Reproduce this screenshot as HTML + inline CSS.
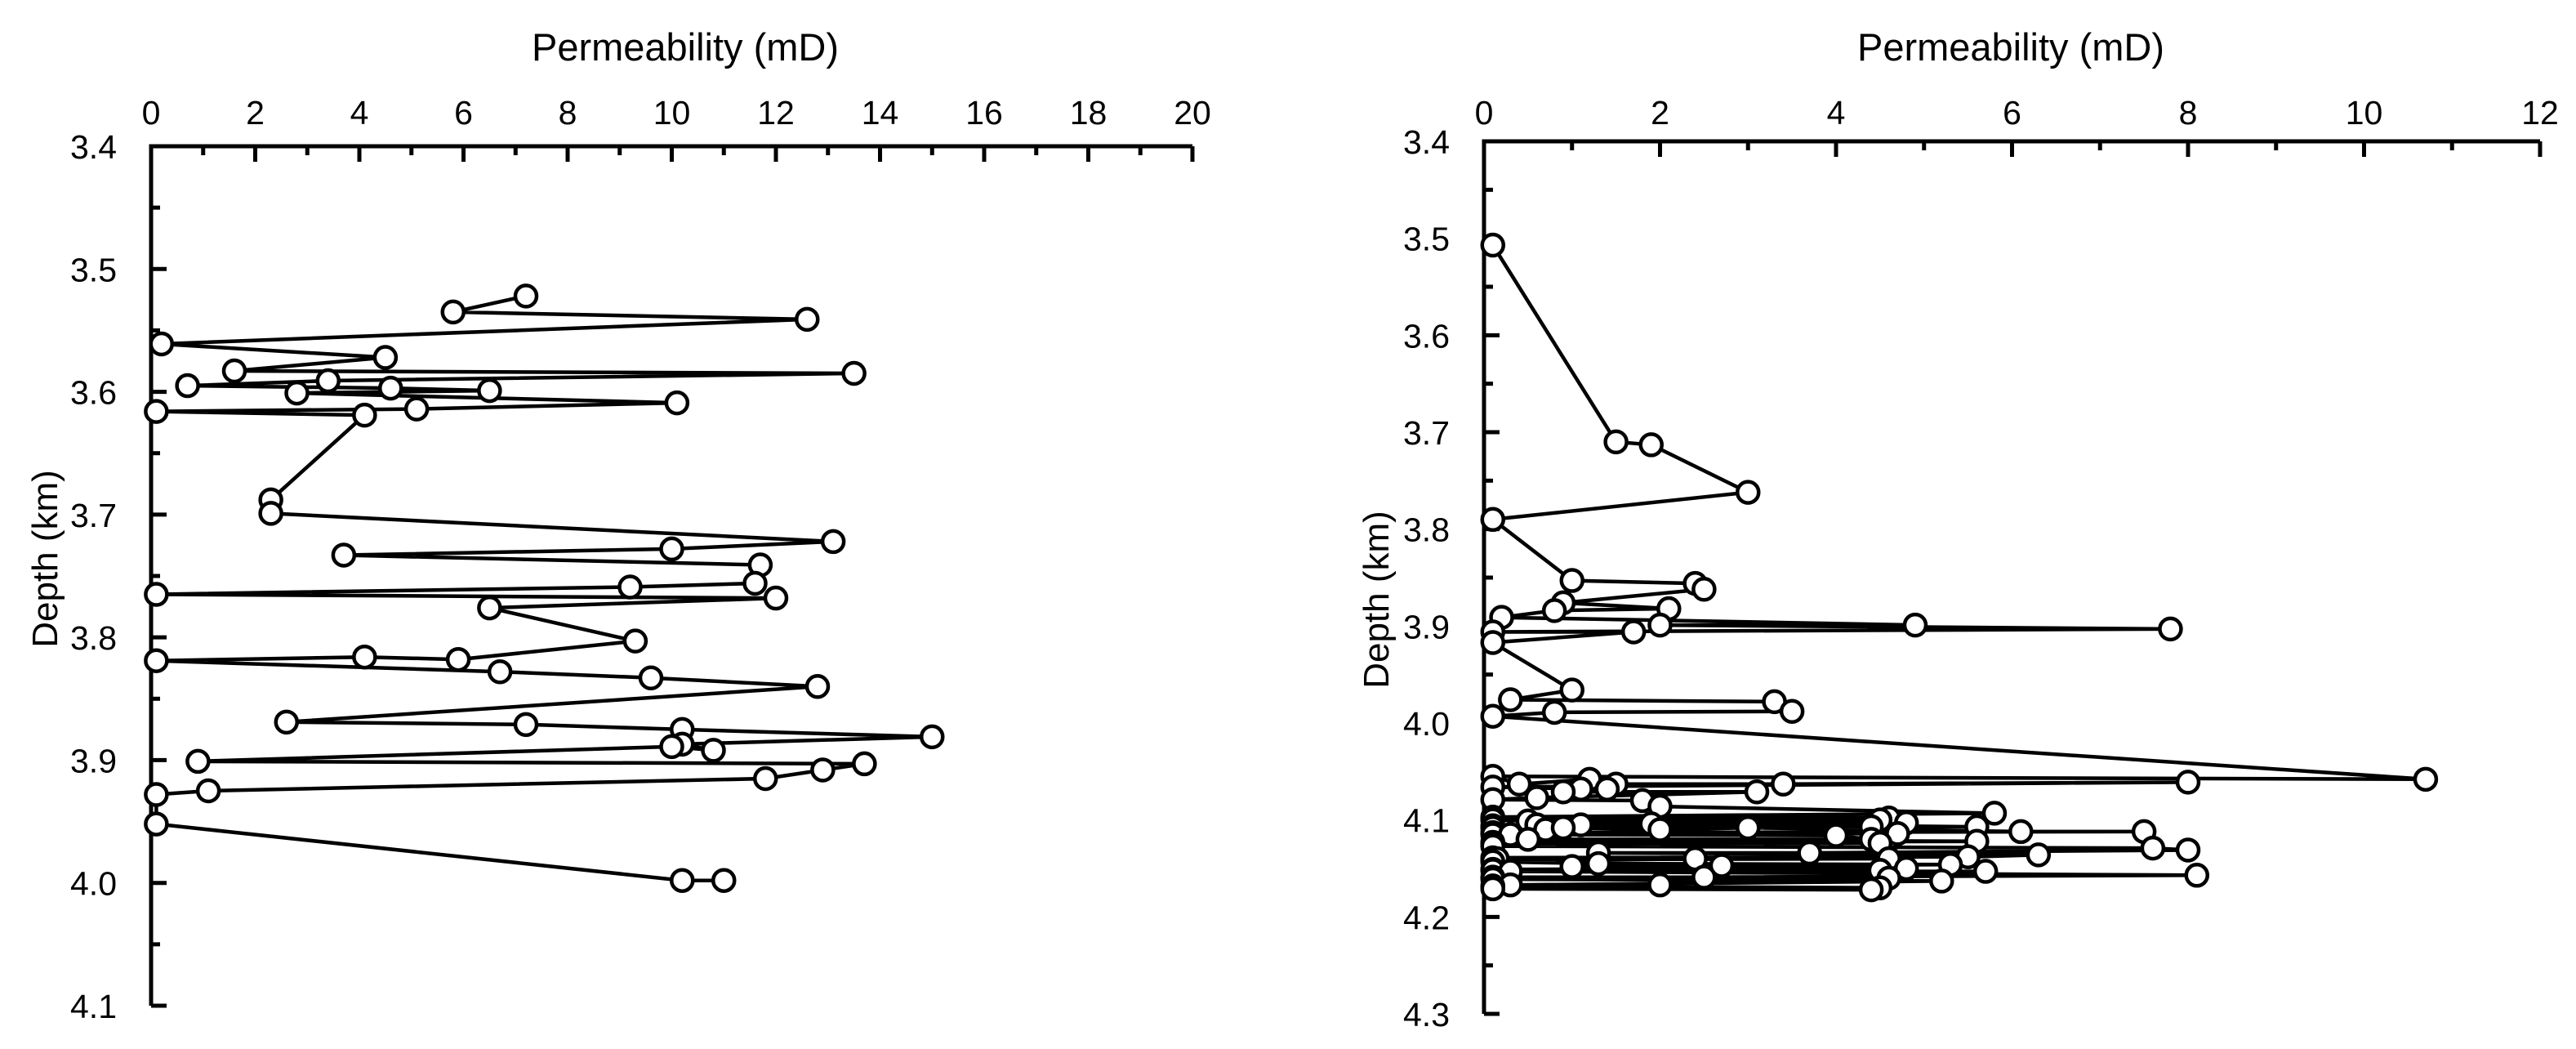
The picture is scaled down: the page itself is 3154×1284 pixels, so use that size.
<!DOCTYPE html>
<html><head><meta charset="utf-8"><style>
html,body{margin:0;padding:0;background:#fff}
svg{display:block}
text{font-family:"Liberation Sans",sans-serif;fill:#000}
</style></head><body>
<svg id="chart" width="3154" height="1284" viewBox="0 0 3154 1284" xmlns="http://www.w3.org/2000/svg"></svg>
<script>
// ---- Left panel data ----
const leftPerm = [7.2,5.8,12.6,0.2,4.5,1.6,13.5,3.4,0.7,4.6,6.5,2.8,10.1,5.1,0.1,4.1,2.3,2.3,13.1,10.0,3.7,11.7,11.6,9.2,0.1,12.0,6.5,9.3,5.9,4.1,0.1,6.7,9.6,12.8,2.6,7.2,10.2,15.0,10.2,10.8,10.0,0.9,13.7,12.9,11.8,1.1,0.1,0.1,10.2,11.0];
const leftDepth = [3.522,3.535,3.541,3.561,3.572,3.583,3.585,3.591,3.595,3.597,3.599,3.601,3.609,3.614,3.616,3.619,3.688,3.699,3.722,3.728,3.733,3.741,3.756,3.759,3.765,3.768,3.776,3.803,3.818,3.816,3.819,3.828,3.833,3.840,3.869,3.871,3.875,3.881,3.887,3.892,3.889,3.901,3.903,3.908,3.915,3.925,3.928,3.952,3.998,3.998];
const leftXTicks = [0,2,4,6,8,10,12,14,16,18,20];
const leftYTicks = ["3.4","3.5","3.6","3.7","3.8","3.9","4.0","4.1"];
// ---- Right panel data ----
const rightPerm = [0.1,1.5,1.9,3.0,0.1,1.0,2.4,2.5,0.9,2.1,0.8,0.2,4.9,2.0,7.8,0.1,1.7,0.1,1.0,0.3,3.3,3.5,0.8,0.1,10.7,
 0.1,0.4,1.2,1.5,3.4,8.0,0.1,1.1,1.4,0.9,3.1,0.6,0.1,1.8,2.0,5.8,0.1,4.6,0.1,4.5,0.1,0.5,4.8,0.6,1.1,1.9,5.6,0.1,4.4,0.1,0.7,0.9,2.0,3.0,6.1,7.5,0.1,4.7,0.1,0.3,4.0,4.4,0.5,5.6,0.1,4.5,0.1,0.1,7.6,8.0,3.7,1.3,6.3,5.5,0.1,4.6,0.1,0.15,2.4,0.1,1.3,5.3,2.7,1.0,4.8,0.1,4.5,0.1,5.7,0.3,8.1,2.5,0.1,4.6,0.1,5.2,0.3,2.0,0.1,4.5,0.1,4.4];
const rightDepth = [3.507,3.710,3.713,3.762,3.790,3.853,3.856,3.862,3.876,3.882,3.884,3.891,3.899,3.899,3.903,3.906,3.906,3.917,3.966,3.976,3.978,3.988,3.989,3.993,4.058,
 4.055,4.063,4.058,4.063,4.063,4.061,4.066,4.068,4.068,4.071,4.071,4.077,4.079,4.080,4.086,4.093,4.097,4.098,4.099,4.100,4.100,4.101,4.103,4.105,4.105,4.104,4.107,4.106,4.107,4.108,4.110,4.108,4.110,4.108,4.112,4.112,4.113,4.114,4.115,4.115,4.116,4.120,4.120,4.122,4.123,4.124,4.125,4.127,4.129,4.131,4.134,4.134,4.136,4.138,4.139,4.140,4.141,4.140,4.140,4.143,4.145,4.146,4.147,4.148,4.150,4.151,4.152,4.152,4.153,4.153,4.157,4.159,4.159,4.160,4.161,4.163,4.167,4.167,4.168,4.170,4.171,4.172];
const rightXTicks = [0,2,4,6,8,10,12];
const rightYTicks = ["3.4","3.5","3.6","3.7","3.8","3.9","4.0","4.1","4.2","4.3"];

const NS = "http://www.w3.org/2000/svg";
const svg = document.getElementById('chart');
function mk(tag, attrs, parent){
  const e = document.createElementNS(NS, tag);
  for (const k in attrs) e.setAttribute(k, attrs[k]);
  (parent||svg).appendChild(e);
  return e;
}

function panel(cfg){
  const g = mk('g', {});
  
  
  const xs = v => cfg.x0 + (v - cfg.xmin) / (cfg.xmax - cfg.xmin) * (cfg.x1 - cfg.x0);
  const ys = v => cfg.y0 + (v - cfg.ymin) / (cfg.ymax - cfg.ymin) * (cfg.y1 - cfg.y0);
  const ax = mk('path', {d:`M${cfg.x0},${cfg.y1} L${cfg.x0},${cfg.y0} L${cfg.x1},${cfg.y0}`, fill:'none', stroke:'#000', 'stroke-width':5, 'stroke-linejoin':'miter'}, g);
  
  
  for (let v = cfg.xmin; v <= cfg.xmax + 1e-9; v += 1) {
    const major = Math.round(v) % 2 === 0;
    const t = mk('line', {x1:xs(v), x2:xs(v), y1:cfg.y0, y2:cfg.y0 + (major?19:11), stroke:'#000', 'stroke-width':5}, g);
    
    
  }
  cfg.xTicks.forEach(v => {
    const t = mk('text', {x:xs(v), y:152, 'font-size':41, 'text-anchor':'middle'}, g);
    t.textContent = String(v);
    
    
  });
  const nMinor = Math.round((cfg.ymax - cfg.ymin) / 0.05);
  for (let i = 0; i <= nMinor; i++) {
    const v = cfg.ymin + i * 0.05;
    const major = i % 2 === 0;
    const t = mk('line', {x1:cfg.x0, x2:cfg.x0 + (major?19:11), y1:ys(v), y2:ys(v), stroke:'#000', 'stroke-width':5}, g);
    
    
  }
  cfg.yTicks.forEach(s => {
    const t = mk('text', {x:cfg.x0 - 42, y:ys(parseFloat(s)) + 15, 'font-size':41, 'text-anchor':'end'}, g);
    t.textContent = s;
    
    
  });
  const xt = mk('text', {x:cfg.titleX, y:74, 'font-size':47, 'text-anchor':'middle'}, g);
  xt.textContent = 'Permeability (mD)';
  
  
  const yt = mk('text', {x:0, y:0, 'font-size':44, 'text-anchor':'middle', transform:`translate(${cfg.ytX},${cfg.ytY}) rotate(-90)`}, g);
  yt.textContent = 'Depth (km)';
  
  
  const pts = cfg.perm.map((p, i) => xs(p).toFixed(1) + ',' + ys(cfg.depth[i]).toFixed(1)).join(' ');
  const pl = mk('polyline', {points:pts, fill:'none', stroke:'#000', 'stroke-width':4.5, 'stroke-linejoin':'miter'}, g);
  
  
  cfg.perm.forEach((p, i) => {
    const c = mk('circle', {cx:xs(p), cy:ys(cfg.depth[i]), r:13, fill:'#fff', stroke:'#000', 'stroke-width':4.5}, g);
    
    
  });
}

panel({name:'left-panel', x0:185, x1:1460, y0:179, y1:1231, xmin:0, xmax:20, ymin:3.4, ymax:4.1,
  xTicks:leftXTicks, yTicks:leftYTicks, perm:leftPerm, depth:leftDepth, titleX:839, ytX:70, ytY:684});
panel({name:'right-panel', x0:1817, x1:3110, y0:173, y1:1241, xmin:0, xmax:12, ymin:3.4, ymax:4.3,
  xTicks:rightXTicks, yTicks:rightYTicks, perm:rightPerm, depth:rightDepth, titleX:2462, ytX:1700, ytY:734});
</script>
</body></html>
